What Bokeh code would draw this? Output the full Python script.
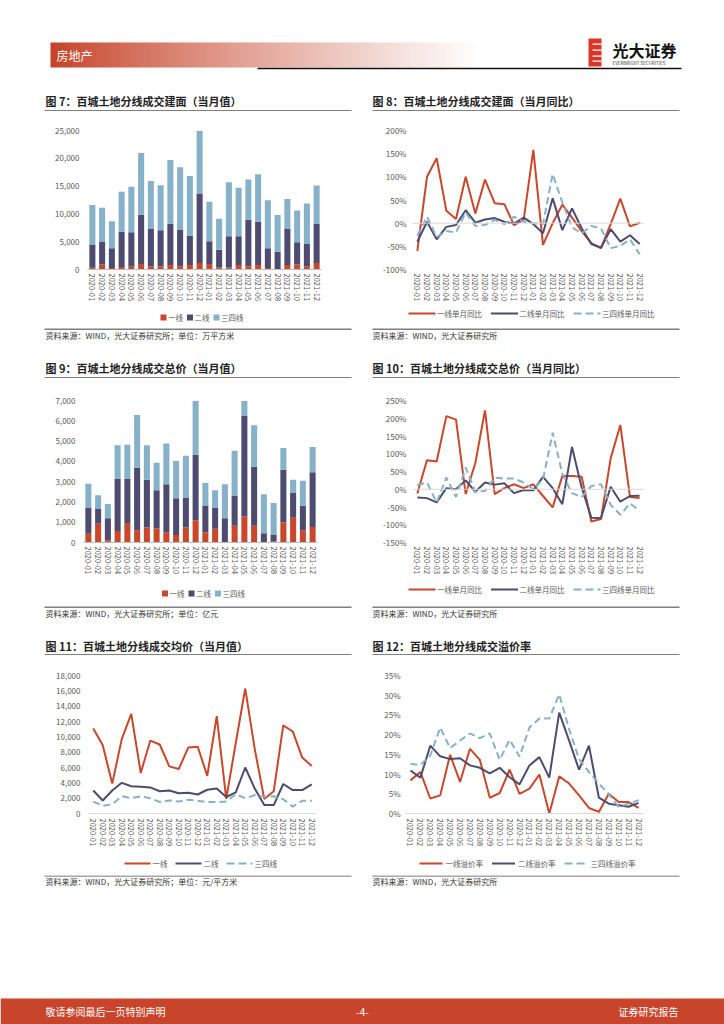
import math
from bokeh.plotting import figure
from bokeh.models import (FactorRange, Range1d, FixedTicker, NumeralTickFormatter,
                          PrintfTickFormatter, Span, Spacer, ColumnDataSource)
from bokeh.layouts import column, row
from bokeh.embed import file_html
from bokeh.resources import INLINE
from bokeh.core.properties import value

FONT = "Noto Sans CJK SC"
RED = "#C9472B"
PURPLE = "#4E4B70"
BLUE = "#86B1C8"
TICK = "#595959"

months = ["2020-01", "2020-02", "2020-03", "2020-04", "2020-05", "2020-06",
          "2020-07", "2020-08", "2020-09", "2020-10", "2020-11", "2020-12",
          "2021-01", "2021-02", "2021-03", "2021-04", "2021-05", "2021-06",
          "2021-07", "2021-08", "2021-09", "2021-10", "2021-11", "2021-12"]

# Fig 7: land area (10k m2)
a7_t1 = [300, 950, 250, 450, 500, 1000, 600, 600, 800, 600, 800, 1150, 1000, 350, 350, 800, 600, 800, 250, 100, 800, 900, 600, 1150]
a7_t2 = [4200, 4000, 3550, 6350, 6200, 8850, 6700, 6450, 7450, 6600, 5250, 12500, 4100, 3200, 5650, 5200, 8350, 7800, 3550, 3100, 6500, 4000, 4000, 7050]
a7_t34 = [7100, 6150, 4900, 7200, 8200, 11100, 8600, 8100, 11450, 11200, 10750, 11300, 7100, 5600, 9700, 8700, 7250, 8550, 8650, 6600, 5400, 5700, 7250, 6900]
ticks7 = [0, 5000, 10000, 15000, 20000, 25000]

# Fig 8: area yoy (%)
y8_t1 = [-60, 100, 140, 27, 9, 100, 21, 94, 43, 41, -4, 7, 158, -47, 0, 40, 12, -17, -43, -54, -2, 53, -7, 1]
y8_t2 = [-40, 3, -35, -8, -4, 28, 1, 8, 11, 3, -1, 12, -2, -22, 54, -15, 32, -11, -45, -53, -13, -40, -26, -45]
y8_t34 = [-27, 14, -30, -17, -20, 23, -6, -4, 7, -2, 14, 3, 0, -2, 106, 45, -9, -22, -6, -11, -54, -49, -35, -67]
ticks8 = [-100, -50, 0, 50, 100, 150, 200]

# Fig 9: total price (100m yuan)
v9_t1 = [430, 930, 100, 570, 930, 600, 740, 700, 510, 370, 740, 1100, 510, 680, 30, 820, 1280, 820, 30, 60, 1000, 1220, 600, 770]
v9_t2 = [1300, 720, 1100, 2560, 2200, 3080, 2350, 1880, 2360, 1810, 1480, 3230, 1310, 1020, 1170, 1470, 4960, 2920, 430, 340, 2590, 1220, 1210, 2690]
v9_t34 = [1170, 680, 700, 1660, 1690, 2610, 1710, 1350, 2010, 1840, 2060, 2660, 1110, 880, 1670, 2230, 740, 2040, 1920, 1550, 1070, 650, 1240, 1250]
ticks9 = [0, 1000, 2000, 3000, 4000, 5000, 6000, 7000]

# Fig 10: total price yoy (%)
y10_t1 = [-12, 82, 78, 206, 196, -14, 74, 222, -14, 3, 14, 3, 14, -19, -51, 37, 37, 35, -91, -84, 87, 181, -22, -25]
y10_t2 = [-23, -25, -37, 3, 0, 25, -7, 19, 13, 17, -11, -2, -3, 35, 3, -42, 119, 5, -80, -81, 7, -35, -19, -18]
y10_t34 = [12, 19, -37, 33, -22, 61, -7, -5, 33, 30, 30, 19, 0, 28, 159, 44, -11, -22, 9, 14, -44, -72, -40, -61]
ticks10 = [-150, -100, -50, 0, 50, 100, 150, 200, 250]

# Fig 11: average price (yuan/m2)
p11_t1 = [11100, 8900, 3900, 9700, 13000, 5300, 9500, 9000, 6150, 5800, 8600, 8700, 4900, 12700, 1900, 9200, 16300, 8400, 1900, 2900, 11500, 10700, 7300, 6200]
p11_t2 = [3000, 1700, 3000, 4000, 3550, 3500, 3400, 2900, 3000, 2650, 2700, 2480, 3100, 3250, 2150, 2750, 6000, 3250, 1100, 1100, 3850, 3050, 3050, 3800]
p11_t34 = [1550, 1000, 1200, 2250, 2000, 2250, 2000, 1500, 1700, 1550, 1800, 1650, 1500, 1500, 1550, 2500, 2000, 2400, 2200, 2250, 1850, 900, 1650, 1650]
ticks11 = [0, 2000, 4000, 6000, 8000, 10000, 12000, 14000, 16000, 18000]

# Fig 12: premium rate (%)
r12_t1 = [8.4, 10.5, 3.8, 4.6, 14.9, 8.0, 16.4, 13.6, 4.0, 5.2, 11.1, 5.0, 6.3, 9.9, 0.0, 9.4, 7.6, 4.6, 1.4, 0.4, 5.0, 2.9, 2.9, 1.4]
r12_t2 = [10.9, 9.1, 17.2, 14.5, 13.8, 14.0, 12.2, 11.6, 10.2, 11.6, 9.2, 7.4, 12.2, 14.3, 9.1, 25.6, 18.5, 11.1, 17.2, 4.0, 2.5, 2.1, 1.7, 2.7]
r12_t34 = [12.6, 12.3, 14.7, 21.8, 16.6, 18.5, 20.3, 19.1, 20.3, 13.6, 18.7, 14.4, 21.8, 24.1, 24.1, 30.2, 21.4, 13.8, 10.5, 7.6, 4.9, 1.7, 2.5, 3.4]
ticks12 = [0, 5, 10, 15, 20, 25, 30, 35]

tiers = ["一线", "二线", "三四线"]
yoy_labels = ["一线单月同比", "二线单月同比", "三四线单月同比"]
prem_labels = ["一线溢价率", "二线溢价率", "三四线溢价率"]

titles = ["图 7：百城土地分线成交建面（当月值）", "图 8：百城土地分线成交建面（当月同比）",
          "图 9：百城土地分线成交总价（当月值）", "图 10：百城土地分线成交总价（当月同比）",
          "图 11：百城土地分线成交均价（当月值）", "图 12：百城土地分线成交溢价率"]
sources = ["资料来源：WIND，光大证券研究所；单位：万平方米", "资料来源：WIND，光大证券研究所",
           "资料来源：WIND，光大证券研究所；单位：亿元", "资料来源：WIND，光大证券研究所",
           "资料来源：WIND，光大证券研究所；单位：元/平方米", "资料来源：WIND，光大证券研究所"]


def base_fig(height, y0, y1, ticks, borders, label_standoff_y, label_standoff_x, fmt, axis_line):
    left, right, top, bottom = borders
    p = figure(width=307, height=height, x_range=FactorRange(factors=months),
               y_range=Range1d(y0, y1), output_backend="svg", toolbar_location=None,
               title=None, min_border_left=left, min_border_right=right,
               min_border_top=top, min_border_bottom=bottom, outline_line_color=None)
    p.grid.visible = False
    p.yaxis.ticker = FixedTicker(ticks=ticks)
    p.yaxis.formatter = fmt
    for ax in (p.xaxis[0], p.yaxis[0]):
        ax.major_tick_line_color = None
        ax.minor_tick_line_color = None
        ax.major_tick_out = 0
        ax.major_tick_in = 0
        ax.major_label_text_color = TICK
        ax.major_label_text_font = FONT
    p.yaxis.axis_line_color = None
    p.yaxis.major_label_text_font_size = "8px"
    p.yaxis.major_label_standoff = label_standoff_y
    p.xaxis.major_label_orientation = -math.pi / 2
    p.xaxis.major_label_text_font_size = "7.5px"
    p.xaxis.major_label_standoff = label_standoff_x
    p.xaxis.axis_line_color = axis_line
    return p


def bar_chart(height, t1, t2, t34, ymax, ticks, borders, sy, sx):
    p = base_fig(height, 0, ymax, ticks, borders, sy, sx, NumeralTickFormatter(format="0,0"), "#BFBFBF")
    src = ColumnDataSource(dict(m=months, a=t1, b=t2, c=t34))
    p.vbar_stack(["a", "b", "c"], x="m", width=0.62, color=[RED, PURPLE, BLUE],
                 line_color=None, source=src)
    return p


def line_chart(height, s1, s2, s3, y0, y1, ticks, borders, sy, sx, zero_span, pct=True):
    axis_line = None if zero_span else "#D9D9D9"
    fmt = PrintfTickFormatter(format="%d%%") if pct else NumeralTickFormatter(format="0,0")
    p = base_fig(height, y0, y1, ticks, borders, sy, sx, fmt, axis_line)
    if zero_span:
        p.add_layout(Span(location=0, dimension="width", line_color="#D9D9D9", line_width=1))
    p.line(months, s1, line_color=RED, line_width=2)
    p.line(months, s2, line_color=PURPLE, line_width=2)
    p.line(months, s3, line_color=BLUE, line_width=2, line_dash="7 4")
    return p


# rows: row1 111-309, row2 378-582, row3 655-853
p7 = bar_chart(198, a7_t1, a7_t2, a7_t34, 25000, ticks7, (43, 30, 18, 37), 8, 4)
p8 = line_chart(198, y8_t1, y8_t2, y8_t34, -100, 200, ticks8, (40, 35, 19, 40), 6, 4, True)
p9 = bar_chart(204, v9_t1, v9_t2, v9_t34, 7000, ticks9, (39, 34, 18, 35), 8, 4)
p10 = line_chart(204, y10_t1, y10_t2, y10_t34, -150, 250, ticks10, (40, 35, 22, 40), 6, 4, True)
p11 = line_chart(198, p11_t1, p11_t2, p11_t34, 0, 18000, ticks11, (44, 35, 20, 38), 8, 5, False, pct=False)
p12 = line_chart(198, r12_t1, r12_t2, r12_t34, 0, 35, ticks12, (33, 36, 19, 40), 5, 5, False)


def deco(y0, y1):
    p = figure(width=724, height=int(y1 - y0), x_range=Range1d(0, 724), y_range=Range1d(y1, y0),
               output_backend="svg", toolbar_location=None, x_axis_type=None, y_axis_type=None,
               min_border=0, outline_line_color=None, title=None)
    return p


def txt(p, x, y, s, size="8px", color="#333333", align="left", bold=False):
    p.text(x=[x], y=[y], text=[s], text_font=value(FONT), text_font_size=size,
           text_color=color, text_align=align, text_baseline="middle",
           text_font_style="bold" if bold else "normal")


def hline(p, y, x0, x1, color="#7F7F7F", w=1.5):
    p.segment(x0=[x0], y0=[y], x1=[x1], y1=[y], line_color=color, line_width=w)


LEG_FS = 7.5


def legend(p, x, y, labels, kind, gw, gap, spacing):
    colors = [RED, PURPLE, BLUE]
    for i, lab in enumerate(labels):
        if kind == "box":
            p.quad(left=[x], right=[x + gw], top=[y - 3], bottom=[y + 3],
                   fill_color=colors[i], line_color=None)
        else:
            p.segment(x0=[x], y0=[y], x1=[x + gw], y1=[y], line_color=colors[i], line_width=2,
                      line_dash="8 4" if i == 2 else "solid")
        tx = x + gw + gap
        txt(p, tx, y, lab, size="%.1fpx" % LEG_FS, color=TICK)
        x = tx + len(lab) * LEG_FS + spacing


LX0, LX1, RX0, RX1 = 44, 351, 372, 679

# header
hd = deco(0, 111)
n = 86
gx0, gx1 = 50, 480
xs0, xs1, cols = [], [], []
for i in range(n):
    t = i / (n - 1)
    xs0.append(gx0 + (gx1 - gx0) * i / n)
    xs1.append(gx0 + (gx1 - gx0) * (i + 1) / n + 0.5)
    f = t ** 0.85
    r = int(198 + (255 - 198) * f)
    g = int(66 + (255 - 66) * f)
    b = int(40 + (255 - 40) * f)
    cols.append("#%02x%02x%02x" % (r, g, b))
hd.quad(left=xs0, right=xs1, top=[42] * n, bottom=[67] * n, fill_color=cols, line_color=None)
txt(hd, 56, 55, "房地产", size="12px", color="white")
hline(hd, 68, 257, 681, color="#111111", w=1.3)
# logo
hd.quad(left=[588], right=[601], top=[38], bottom=[66], fill_color="#D9362A", line_color=None)
hd.quad(left=[592, 592, 592, 592], right=[601, 601, 601, 601], top=[43, 49, 55, 60],
        bottom=[44.2, 50.2, 56.2, 61.2], fill_color="white", line_color=None)
txt(hd, 612, 49, "光大证券", size="16px", color="#111111", bold=True)
txt(hd, 612, 62, "EVERBRIGHT SECURITIES", size="4.5px", color="#333333")
txt(hd, 45, 100, titles[0], size="11px", color="#222222", bold=True)
txt(hd, 372, 100, titles[1], size="11px", color="#222222", bold=True)
hline(hd, 110.3, LX0, LX1)
hline(hd, 110.3, RX0, RX1)

# middle 1
m1 = deco(309, 378)
legend(m1, 160, 317, tiers, "box", 6, 1.5, 4)
legend(m1, 408, 313, yoy_labels, "line", 27, 1.5, 9)
hline(m1, 328.8, LX0, LX1)
hline(m1, 328.8, RX0, RX1)
txt(m1, 45, 334.5, sources[0], size="8px")
txt(m1, 372, 334.5, sources[1], size="8px")
txt(m1, 45, 367, titles[2], size="11px", color="#222222", bold=True)
txt(m1, 372, 367, titles[3], size="11px", color="#222222", bold=True)
hline(m1, 377.3, LX0, LX1)
hline(m1, 377.3, RX0, RX1)

# middle 2
m2 = deco(582, 655)
legend(m2, 161.5, 593, tiers, "box", 6, 1.5, 4)
legend(m2, 408, 589, yoy_labels, "line", 27, 1.5, 9)
hline(m2, 606.8, LX0, LX1)
hline(m2, 606.8, RX0, RX1)
txt(m2, 45, 612.5, sources[2], size="8px")
txt(m2, 372, 612.5, sources[3], size="8px")
txt(m2, 45, 645, titles[4], size="11px", color="#222222", bold=True)
txt(m2, 372, 645, titles[5], size="11px", color="#222222", bold=True)
hline(m2, 654.3, LX0, LX1)
hline(m2, 654.3, RX0, RX1)

# footer
ft = deco(853, 1024)
legend(ft, 124, 863, tiers, "line", 26, 2, 8)
legend(ft, 419, 863, prem_labels, "line", 23, 3, 9)
hline(ft, 875.8, LX0, LX1, color="#A6A6A6")
hline(ft, 875.8, RX0, RX1, color="#A6A6A6")
txt(ft, 45, 881, sources[4], size="8px")
txt(ft, 372, 881, sources[5], size="8px")
ft.quad(left=[0], right=[724], top=[998], bottom=[1024], fill_color="#C8442A", line_color=None)
txt(ft, 45, 1011, "敬请参阅最后一页特别声明", size="10px", color="white")
txt(ft, 362, 1011, "-4-", size="10px", color="white", align="center")
txt(ft, 678, 1011, "证券研究报告", size="10px", color="white", align="right")


def chart_row(a, b, h):
    return row(Spacer(width=44, height=h), a, Spacer(width=21, height=h), b, Spacer(width=45, height=h))


layout = column(hd, chart_row(p7, p8, 198), m1, chart_row(p9, p10, 204), m2,
                chart_row(p11, p12, 198), ft)

open("out.html", "w").write(file_html(layout, INLINE))
